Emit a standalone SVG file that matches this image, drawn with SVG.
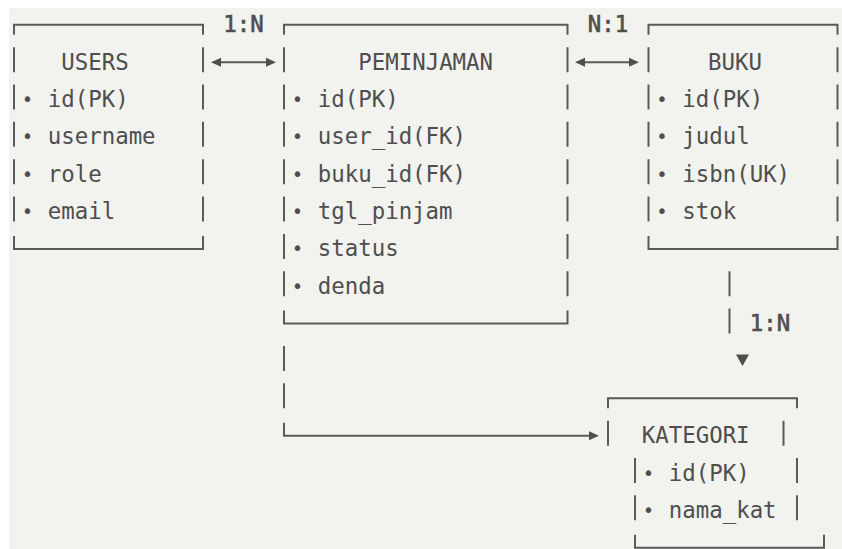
<svg xmlns="http://www.w3.org/2000/svg" width="842" height="549" viewBox="0 0 842 549">
<style>
.t{font-family:"DejaVu Sans Mono","Liberation Mono",monospace;font-size:22.4px;fill:#4e4e4e}
.b{text-anchor:middle;font-size:19px}
.lbl{stroke:#4e4e4e;stroke-width:0.6px}
.ln{fill:none;stroke:#5a5a5a;stroke-width:2}
.ah{fill:#4e4e4e}
</style>
<defs>
<marker id="arr" viewBox="0 0 10 10" refX="6" refY="5" markerWidth="11" markerHeight="10" markerUnits="userSpaceOnUse" orient="auto-start-reverse">
<path d="M0,0.5 L10,5 L0,9.5 z" fill="#4e4e4e"/>
</marker>
</defs>
<rect x="0" y="0" width="842" height="549" fill="#ffffff"/>
<rect x="9" y="8" width="833" height="541" fill="#f2f2ee"/>

<g id="users">
<path class="ln" d="M14,34.8 V24.8 H203 V34.8"/>
<path class="ln" d="M14,47.15 V72.15 M203,47.15 V72.15 M14,84.5 V109.5 M203,84.5 V109.5 M14,121.85 V146.85 M203,121.85 V146.85 M14,159.2 V184.2 M203,159.2 V184.2 M14,196.55 V221.55 M203,196.55 V221.55"/>
<path class="ln" d="M14,235.9 V248.9 H203 V235.9"/>
<text class="t" x="61.25" y="69.65">USERS</text>
<text class="t b" x="27.5" y="106">•</text><text class="t" x="47.75" y="107">id(PK)</text>
<text class="t b" x="27.5" y="143.35">•</text><text class="t" x="47.75" y="144.35">username</text>
<text class="t b" x="27.5" y="180.7">•</text><text class="t" x="47.75" y="181.7">role</text>
<text class="t b" x="27.5" y="218.05">•</text><text class="t" x="47.75" y="219.05">email</text>
</g>

<g id="peminjaman">
<path class="ln" d="M284,34.8 V24.8 H567.5 V34.8"/>
<path class="ln" d="M284,47.15 V72.15 M567.5,47.15 V72.15 M284,84.5 V109.5 M567.5,84.5 V109.5 M284,121.85 V146.85 M567.5,121.85 V146.85 M284,159.2 V184.2 M567.5,159.2 V184.2 M284,196.55 V221.55 M567.5,196.55 V221.55 M284,233.9 V258.9 M567.5,233.9 V258.9 M284,271.25 V296.25 M567.5,271.25 V296.25"/>
<path class="ln" d="M284,310.6 V323.6 H567.5 V310.6"/>
<text class="t" x="358.25" y="69.65">PEMINJAMAN</text>
<text class="t b" x="297.5" y="106">•</text><text class="t" x="317.75" y="107">id(PK)</text>
<text class="t b" x="297.5" y="143.35">•</text><text class="t" x="317.75" y="144.35">user_id(FK)</text>
<text class="t b" x="297.5" y="180.7">•</text><text class="t" x="317.75" y="181.7">buku_id(FK)</text>
<text class="t b" x="297.5" y="218.05">•</text><text class="t" x="317.75" y="219.05">tgl_pinjam</text>
<text class="t b" x="297.5" y="255.4">•</text><text class="t" x="317.75" y="256.4">status</text>
<text class="t b" x="297.5" y="292.75">•</text><text class="t" x="317.75" y="293.75">denda</text>
</g>

<g id="buku">
<path class="ln" d="M648.5,34.8 V24.8 H837.5 V34.8"/>
<path class="ln" d="M648.5,47.15 V72.15 M837.5,47.15 V72.15 M648.5,84.5 V109.5 M837.5,84.5 V109.5 M648.5,121.85 V146.85 M837.5,121.85 V146.85 M648.5,159.2 V184.2 M837.5,159.2 V184.2 M648.5,196.55 V221.55 M837.5,196.55 V221.55"/>
<path class="ln" d="M648.5,235.9 V248.9 H837.5 V235.9"/>
<text class="t" x="708" y="69.65">BUKU</text>
<text class="t b" x="662" y="106">•</text><text class="t" x="682.25" y="107">id(PK)</text>
<text class="t b" x="662" y="143.35">•</text><text class="t" x="682.25" y="144.35">judul</text>
<text class="t b" x="662" y="180.7">•</text><text class="t" x="682.25" y="181.7">isbn(UK)</text>
<text class="t b" x="662" y="218.05">•</text><text class="t" x="682.25" y="219.05">stok</text>
</g>

<g id="kategori">
<path class="ln" d="M608,408.3 V398.3 H797 V408.3"/>
<path class="ln" d="M608,420.65 V445.65 M783.5,420.65 V445.65 M635,458 V483 M797,458 V483 M635,495.35 V520.35 M797,495.35 V520.35"/>
<path class="ln" d="M635,534.7 V547.7 H824 V534.7"/>
<text class="t" x="641.75" y="443.15">KATEGORI</text>
<text class="t b" x="648.5" y="479.5">•</text><text class="t" x="668.75" y="480.5">id(PK)</text>
<text class="t b" x="648.5" y="516.85">•</text><text class="t" x="668.75" y="517.85">nama_kat</text>
</g>

<g id="connectors">
<line class="ln" x1="215" y1="62.15" x2="272" y2="62.15" marker-start="url(#arr)" marker-end="url(#arr)"/>
<text class="t lbl" x="223.25" y="32.3">1:N</text>
<line class="ln" x1="579" y1="62.15" x2="635" y2="62.15" marker-start="url(#arr)" marker-end="url(#arr)"/>
<text class="t lbl" x="587.75" y="32.3">N:1</text>
<path class="ln" d="M729.5,271.25 V296.25 M729.5,308.6 V333.6"/>
<text class="t lbl" x="749.75" y="331.1">1:N</text>
<polygon class="ah" points="736,354.5 749,354.5 742.5,366"/>
<path class="ln" d="M284,345.95 V370.95 M284,383.3 V408.3"/>
<path class="ln" d="M284,422.65 V435.65 H595" marker-end="url(#arr)"/>
</g>
</svg>
